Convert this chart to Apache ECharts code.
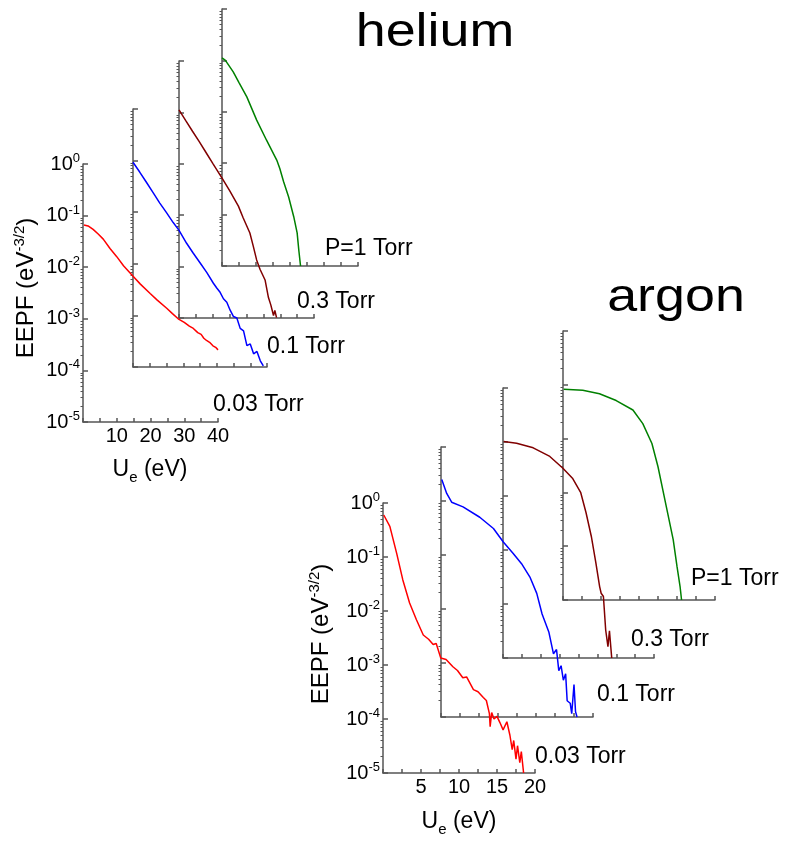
<!DOCTYPE html>
<html><head><meta charset="utf-8">
<script src="https://cdn.jsdelivr.net/npm/echarts@6/dist/echarts.min.js"></script>
<style>html,body{margin:0;padding:0;background:#fff}#c{width:792px;height:848px}</style>
</head><body><div id="c"></div>
<script>
// ---------- helium (x: eV, y: EEPF eV^-3/2) ----------
const heX003 = [0.3, 1.5, 3, 4.5, 6, 8, 10, 12, 14.7, 17, 19.9, 22, 24.8, 26.5, 28.2, 30, 31.5, 32.7, 34, 35, 35.8, 36.6, 37.5, 38.5, 39.3, 40];
const heY003 = [0.066, 0.063, 0.054, 0.044, 0.035, 0.023, 0.016, 0.0107, 0.0068, 0.0047, 0.0031, 0.0023, 0.0016, 0.00126, 0.001, 0.00085, 0.00072, 0.00065, 0.00054, 0.0005, 0.00042, 0.00038, 0.00035, 0.0003, 0.00028, 0.00025];
const heX01 = [0, 2, 4, 6, 8, 10, 12, 13.7, 16, 18, 20, 22, 24, 25, 26, 27, 28, 29, 30, 31, 32, 33, 34, 35, 36, 37, 38, 38.9];
const heY01 = [0.093, 0.060, 0.038, 0.024, 0.015, 0.0098, 0.0063, 0.0045, 0.0025, 0.0016, 0.00105, 0.00068, 0.00042, 0.00034, 0.00028, 0.00021, 0.00018, 0.000126, 0.000095, 0.000089, 0.000056, 0.00005, 0.000026, 0.000028, 0.000018, 0.00002, 0.0000132, 0.0000105];
const heX03 = [0, 2, 4, 6, 8, 10, 12.8, 15, 17.6, 19, 21, 22, 23, 24, 25.5, 26.5, 27.2, 27.6, 28, 28.4, 28.9];
const heY03 = [0.112, 0.069, 0.043, 0.027, 0.0166, 0.0102, 0.0052, 0.003, 0.0015, 0.00089, 0.00045, 0.00025, 0.000135, 0.000089, 0.000055, 0.000025, 0.000018, 0.000019, 0.0000112, 0.000014, 0.0000102];
const heX1 = [0, 1, 3.3, 5, 7.3, 10.2, 13.1, 16.1, 17, 18.1, 19.6, 21.1, 22.1, 22.6, 23.1];
const heY1 = [0.112, 0.1, 0.06, 0.037, 0.0195, 0.0069, 0.0028, 0.00115, 0.00079, 0.00044, 0.00022, 0.000091, 0.000044, 0.00002, 0.00001];

// ---------- argon ----------
const arX003 = [0.1, 0.9, 1.8, 2.6, 3.5, 4.4, 5.3, 6.0, 6.6, 7.0, 7.6, 8.3, 9.2, 9.8, 10.5, 11.0, 11.9, 12.5, 13.2, 13.6, 14.0, 14.1, 14.3, 14.6, 15.0, 15.4, 15.8, 16.3, 16.7, 17.0, 17.2, 17.5, 17.7, 18.0, 18.2, 18.5];
const arY003 = [0.60, 0.37, 0.117, 0.038, 0.0141, 0.0069, 0.0036, 0.003, 0.0024, 0.0025, 0.00135, 0.00126, 0.00093, 0.00079, 0.00058, 0.0006, 0.00035, 0.00032, 0.00025, 0.00022, 0.000126, 0.000072, 0.000132, 0.0001, 0.000112, 0.000085, 0.000063, 0.000089, 0.00005, 0.000027, 0.00004, 0.000018, 0.000032, 0.0000155, 0.000025, 0.00001];
const arX01 = [0.1, 0.75, 1.4, 2.9, 5.1, 6.9, 8.2, 9.5, 10.6, 11.7, 12.6, 13.3, 14.2, 14.8, 15.2, 15.5, 15.8, 16.1, 16.4, 16.6, 17.0, 17.2, 17.5, 17.7, 17.9];
const arY01 = [0.25, 0.138, 0.095, 0.078, 0.05, 0.031, 0.0174, 0.0107, 0.0069, 0.0039, 0.00195, 0.00081, 0.00037, 0.000148, 0.000178, 0.000072, 0.000089, 0.000048, 0.000063, 0.00002, 0.000018, 0.0000115, 0.00004, 0.0000126, 0.00001];
const arX03 = [0.1, 1.8, 4.0, 6.2, 7.9, 9.2, 10.3, 11.0, 11.7, 12.3, 12.8, 13.0, 13.3, 13.6, 13.9, 14.1, 14.4];
const arY03 = [0.102, 0.095, 0.078, 0.054, 0.033, 0.0214, 0.0115, 0.0049, 0.00178, 0.00058, 0.00021, 0.000158, 0.000138, 0.000033, 0.0000162, 0.000032, 0.00001];
const arX1 = [0.1, 2.6, 4.8, 7.0, 9.2, 10.5, 11.7, 12.5, 13.6, 14.5, 15.0, 15.4, 15.6];
const arY1 = [0.083, 0.079, 0.068, 0.051, 0.034, 0.019, 0.0081, 0.003, 0.00054, 0.000132, 0.000042, 0.000018, 0.00001];

// axis ticks / labels
const heXTickLabels = [10, 20, 30, 40];
const arXTickLabels = [5, 10, 15, 20];
const yDecades = [1e-5, 1e-4, 1e-3, 1e-2, 1e-1, 1];
const pressureLabels = ['0.03 Torr', '0.1 Torr', '0.3 Torr', 'P=1 Torr'];
const seriesColors = ['#ff0000', '#0000ff', '#800000', '#008000'];

const FONT = '"Liberation Sans", Arial, sans-serif';
const minorVals = [];
for (let k = -5; k < 0; k++) for (let m = 2; m <= 9; m++) minorVals.push(+(m * Math.pow(10, k)).toPrecision(3));

const panels = [
  {xs: heX003, ys: heY003, g: {left: 83, top: 164, width: 135, height: 258}, he: true},
  {xs: heX01, ys: heY01, g: {left: 133, top: 109, width: 134, height: 258}, he: true},
  {xs: heX03, ys: heY03, g: {left: 179, top: 61, width: 135, height: 257}, he: true},
  {xs: heX1, ys: heY1, g: {left: 222, top: 9, width: 136, height: 257}, he: true},
  {xs: arX003, ys: arY003, g: {left: 383, top: 503, width: 152, height: 270}, he: false},
  {xs: arX01, ys: arY01, g: {left: 441, top: 447, width: 152, height: 270}, he: false},
  {xs: arX03, ys: arY03, g: {left: 503, top: 388, width: 151, height: 270}, he: false},
  {xs: arX1, ys: arY1, g: {left: 563, top: 331, width: 152, height: 269}, he: false}
];

const axisLineStyle = {color: '#555', width: 1.5};
const grid = [], xAxis = [], yAxis = [], series = [];
panels.forEach((p, i) => {
  const labelled = (i % 4) === 0;
  grid.push(Object.assign({containLabel: false}, p.g));
  const xl = p.he ? heXTickLabels : arXTickLabels;
  xAxis.push({
    gridIndex: i, type: 'value', min: 0, max: p.he ? 40 : 20, interval: p.he ? 5 : 2.5,
    axisLine: {onZero: false, lineStyle: axisLineStyle},
    axisTick: {inside: true, length: 4, lineStyle: axisLineStyle},
    splitLine: {show: false},
    axisLabel: {show: labelled, margin: 4, color: '#000', fontSize: 20, fontFamily: FONT,
      showMinLabel: true, showMaxLabel: true,
      formatter: v => (xl.indexOf(v) >= 0 ? String(v) : '')}
  });
  yAxis.push({
    gridIndex: i, type: 'log', logBase: 10, min: 1e-5, max: 1,
    axisLine: {onZero: false, lineStyle: axisLineStyle},
    axisTick: {inside: true, length: 5, lineStyle: axisLineStyle, customValues: yDecades},
    splitLine: {show: false},
    axisLabel: {show: labelled, margin: 3, customValues: yDecades, fontSize: 20, fontFamily: FONT, color: '#000',
      formatter: v => '{b|10}{s|' + Math.round(Math.log10(v)) + '}',
      rich: {
        b: {fontSize: 20, fontFamily: FONT, color: '#000', lineHeight: 24},
        s: {fontSize: 13, fontFamily: FONT, color: '#000', lineHeight: 12, verticalAlign: 'top'}
      }}
  });
  yAxis.push({
    gridIndex: i, type: 'log', logBase: 10, min: 1e-5, max: 1,
    axisLine: {show: false},
    axisTick: {inside: true, length: 2.5, lineStyle: {color: '#555', width: 1}, customValues: minorVals},
    splitLine: {show: false},
    axisLabel: {show: false}
  });
  series.push({
    type: 'line', xAxisIndex: i, yAxisIndex: 2 * i,
    data: p.xs.map((x, j) => [x, p.ys[j]]),
    showSymbol: false, symbol: 'none',
    lineStyle: {color: seriesColors[i % 4], width: 1.5},
    itemStyle: {color: seriesColors[i % 4]},
    z: 3
  });
});

const txt = (x, y, text, size, extra) => Object.assign({
  type: 'text', x: x, y: y,
  style: {text: text, fontSize: size, fontFamily: FONT, fill: '#000', textAlign: 'left', textVerticalAlign: 'middle'}
}, extra || {});

const torrPos = [[213, 405], [267, 347], [297, 302], [325, 249], [535, 757], [597, 695], [631, 640], [691, 579]];
const graphic = [];
torrPos.forEach((pp, i) => graphic.push(txt(pp[0], pp[1], pressureLabels[i % 4], 23)));

function titleText(x, y, t) {
  return {type: 'text', x: x, y: y, scaleX: 1.17,
    style: {text: t, fontSize: 46, fontFamily: FONT, fill: '#000', textAlign: 'center', textVerticalAlign: 'middle'}};
}
graphic.push(titleText(435, 33, 'helium'));
graphic.push(titleText(676, 298, 'argon'));

function eepf(x, y) {
  return {type: 'text', x: x, y: y, rotation: Math.PI / 2,
    style: {text: '{a|EEPF (eV}{s|-3/2}{a|)}', textAlign: 'center', textVerticalAlign: 'middle',
      rich: {
        a: {fontSize: 24, fontFamily: FONT, fill: '#000', lineHeight: 28},
        s: {fontSize: 15, fontFamily: FONT, fill: '#000', lineHeight: 12, verticalAlign: 'top'}
      }}};
}
graphic.push(eepf(26, 288));
graphic.push(eepf(321, 634));

function ue(x, y) {
  return {type: 'text', x: x, y: y,
    style: {text: '{a|U}{e|e}{a| (eV)}', textAlign: 'center', textVerticalAlign: 'middle',
      rich: {
        a: {fontSize: 23, fontFamily: FONT, fill: '#000', lineHeight: 30},
        e: {fontSize: 15, fontFamily: FONT, fill: '#000', lineHeight: 6, verticalAlign: 'bottom'}
      }}};
}
graphic.push(ue(150, 470));
graphic.push(ue(459, 822));

const chart = echarts.init(document.getElementById('c'), null, {renderer: 'canvas'});
chart.setOption({
  animation: false,
  backgroundColor: '#fff',
  grid: grid, xAxis: xAxis, yAxis: yAxis, series: series,
  graphic: graphic
});
</script></body></html>
